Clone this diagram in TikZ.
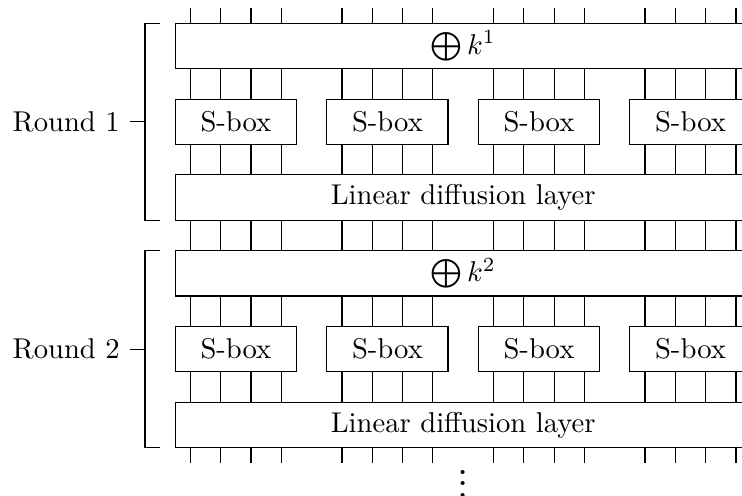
\documentclass[tikz,border=0pt]{standalone}
\usepackage{amsmath,amssymb}
\usepackage{tikz}

\begin{document}
\begin{tikzpicture}[x=0.372cm,y=0.372cm,
  layer/.style={draw,fill=white,minimum width=7.068cm,minimum height=0.558cm,inner sep=0pt,outer sep=0pt},
  sbox/.style={draw,fill=white,minimum width=1.488cm,minimum height=0.558cm,inner sep=0pt,outer sep=0pt}]
\clip (-5.785,-15.57) rectangle (18.70,0.77);

% Round 1
\node[layer] (key1) at (9.5,-0.75) {$\bigoplus k^1$};
\foreach \g in {0,...,3}
  \node[sbox] (sb1\g) at (5*\g+2,-3.25) {S-box};
\node[layer] (lin1) at (9.5,-5.75) {Linear diffusion layer};

% Round 2
\node[layer] (key2) at (9.5,-8.25) {$\bigoplus k^2$};
\foreach \g in {0,...,3}
  \node[sbox] (sb2\g) at (5*\g+2,-10.75) {S-box};
\node[layer] (lin2) at (9.5,-13.25) {Linear diffusion layer};

% Wires
\foreach \g in {0,...,3}
  \foreach \i in {0,...,3} {
    \coordinate (w) at (5*\g+0.5+\i,0);
    \coordinate (wtop) at (5*\g+0.5+\i,0.5);
    \coordinate (wbot) at (5*\g+0.5+\i,-14.5);
    \draw (wtop) -- (key1.north -| w);
    \draw (key1.south -| w) -- (sb1\g.north -| w);
    \draw (sb1\g.south -| w) -- (lin1.north -| w);
    \draw (lin1.south -| w) -- (key2.north -| w);
    \draw (key2.south -| w) -- (sb2\g.north -| w);
    \draw (sb2\g.south -| w) -- (lin2.north -| w);
    \draw (lin2.south -| w) -- (wbot);
  }

% Round brackets
\node[left] (r1) at (-1.5,-3.25) {Round 1};
\coordinate (b1) at (-1,-3.25);
\draw (r1) -- (b1);
\draw (-0.5,0) -- (-1,0) -- (-1,-6.5) -- (-0.5,-6.5);

\node[left] (r2) at (-1.5,-10.75) {Round 2};
\coordinate (b2) at (-1,-10.75);
\draw (r2) -- (b2);
\draw (-0.5,-7.5) -- (-1,-7.5) -- (-1,-14) -- (-0.5,-14);

% More rounds
\node[anchor=base,font=\Large] (dots) at (9.5,-15.64) {$\vdots$};

\end{tikzpicture}
\end{document}
